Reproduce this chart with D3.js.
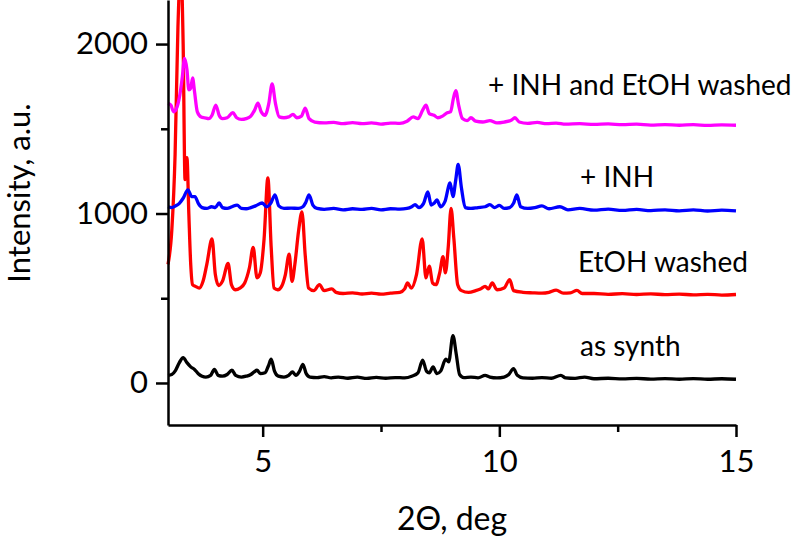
<!DOCTYPE html>
<html>
<head>
<meta charset="utf-8">
<script src="https://cdn.jsdelivr.net/npm/d3@7/dist/d3.min.js"></script>
<style>
  html, body { margin: 0; padding: 0; background: #fff; }
  svg { display: block; font-family: Lato, "Open Sans", sans-serif; }
  .axis path, .axis line { stroke: #000; stroke-width: 2.5px; }
  .axis text { font-size: 31px; fill: #000; font-family: Lato, sans-serif; }
  .trace { fill: none; stroke-width: 3.3px; stroke-linejoin: round; }
  .lbl { font-size: 28px; fill: #000; }
</style>
</head>
<body>
<div id="chart"></div>
<script>
// XRD patterns, 2theta (deg) vs intensity (a.u.)
const asSynth = [
  [3.00,45],[3.08,50],[3.16,75],[3.24,120],[3.32,150],[3.40,120],[3.48,95],[3.56,80],[3.64,55],[3.72,40],
  [3.80,35],[3.90,45],[3.98,80],[4.06,45],[4.15,40],[4.25,50],[4.35,75],[4.43,45],[4.55,35],[4.65,40],
  [4.75,50],[4.82,65],[4.88,75],[4.95,55],[5.05,60],[5.12,100],[5.18,140],[5.25,70],[5.33,40],[5.45,35],
  [5.55,45],[5.63,65],[5.70,45],[5.78,70],[5.85,110],[5.92,55],[6.00,35],[6.15,32],[6.30,38],[6.45,30],
  [6.60,35],[6.80,28],[7.00,34],[7.20,27],[7.40,33],[7.60,28],[7.80,32],[8.00,30],[8.15,40],[8.28,60],
  [8.38,135],[8.46,70],[8.52,60],[8.60,95],[8.68,55],[8.76,70],[8.87,140],[8.93,125],[9.02,280],[9.09,170],
  [9.16,50],[9.25,32],[9.40,35],[9.55,30],[9.70,45],[9.80,35],[9.95,30],[10.10,35],[10.20,50],[10.30,85],
  [10.38,45],[10.50,30],[10.70,28],[10.90,32],[11.10,28],[11.30,45],[11.40,30],[11.60,27],[11.80,35],[12.00,25],
  [12.30,28],[12.60,24],[12.90,27],[13.20,23],[13.50,26],[13.80,22],[14.10,26],[14.40,22],[14.70,25],[15.00,22]
];

const etohWashed = [
  [3.00,700],[3.08,900],[3.15,1350],[3.21,2100],[3.27,2450],[3.32,2000],[3.36,1200],[3.40,1330],[3.44,1000],[3.48,700],
  [3.52,580],[3.58,570],[3.66,560],[3.74,600],[3.82,700],[3.93,850],[4.00,640],[4.07,575],[4.15,600],[4.27,705],
  [4.34,580],[4.42,550],[4.52,560],[4.62,590],[4.72,680],[4.80,800],[4.88,620],[4.95,650],[5.03,850],[5.11,1210],
  [5.18,800],[5.24,560],[5.32,550],[5.40,570],[5.48,640],[5.56,760],[5.62,600],[5.68,700],[5.76,900],[5.83,1010],
  [5.90,750],[5.97,560],[6.08,545],[6.20,580],[6.30,545],[6.46,555],[6.55,535],[6.70,528],[6.90,532],[7.10,525],
  [7.30,530],[7.50,524],[7.70,530],[7.90,535],[8.00,555],[8.06,590],[8.14,560],[8.25,640],[8.37,850],[8.45,620],
  [8.52,690],[8.59,590],[8.66,580],[8.74,650],[8.81,745],[8.86,650],[8.92,800],[8.98,1030],[9.04,850],[9.12,580],
  [9.20,545],[9.35,535],[9.50,545],[9.60,555],[9.70,570],[9.77,555],[9.85,590],[9.95,550],[10.10,560],[10.22,610],
  [10.30,545],[10.50,535],[10.70,532],[10.90,530],[11.05,535],[11.20,548],[11.35,530],[11.50,532],[11.64,546],[11.75,528],
  [12.00,528],[12.30,523],[12.60,527],[12.90,522],[13.20,526],[13.50,521],[13.80,524],[14.10,520],[14.40,523],[14.70,519],[15.00,522]
];

const plusINH = [
  [3.00,1040],[3.08,1035],[3.16,1045],[3.24,1060],[3.32,1090],[3.42,1140],[3.50,1100],[3.57,1100],[3.64,1060],[3.72,1035],
  [3.82,1030],[3.92,1040],[4.00,1035],[4.08,1062],[4.15,1035],[4.25,1030],[4.35,1040],[4.46,1050],[4.55,1030],[4.65,1028],
  [4.75,1035],[4.85,1045],[4.99,1062],[5.08,1040],[5.17,1060],[5.26,1110],[5.34,1045],[5.45,1030],[5.60,1032],[5.75,1030],
  [5.85,1040],[5.91,1065],[5.98,1110],[6.06,1050],[6.15,1030],[6.30,1025],[6.50,1030],[6.70,1022],[6.90,1028],[7.10,1024],
  [7.30,1030],[7.50,1022],[7.70,1028],[7.90,1026],[8.05,1030],[8.15,1040],[8.22,1052],[8.30,1035],[8.40,1060],[8.49,1127],
  [8.56,1050],[8.62,1060],[8.68,1080],[8.76,1040],[8.85,1070],[8.96,1180],[9.02,1100],[9.08,1200],[9.13,1290],[9.20,1150],
  [9.28,1035],[9.40,1030],[9.55,1035],[9.70,1040],[9.80,1052],[9.90,1035],[10.00,1048],[10.10,1030],[10.22,1035],[10.30,1060],
  [10.37,1110],[10.45,1040],[10.60,1030],[10.75,1035],[10.90,1045],[11.05,1028],[11.28,1040],[11.45,1022],[11.70,1030],[12.00,1020],
  [12.30,1026],[12.60,1018],[12.90,1024],[13.20,1017],[13.50,1022],[13.80,1016],[14.10,1021],[14.40,1015],[14.70,1020],[15.00,1016]
];

const inhEtohWashed = [
  [3.00,1650],[3.06,1640],[3.12,1600],[3.18,1620],[3.25,1700],[3.30,1800],[3.35,1915],[3.40,1850],[3.44,1730],[3.48,1740],
  [3.52,1800],[3.56,1720],[3.62,1600],[3.70,1570],[3.78,1565],[3.86,1560],[3.93,1580],[4.01,1640],[4.08,1580],[4.15,1560],
  [4.25,1565],[4.37,1595],[4.45,1565],[4.55,1555],[4.65,1560],[4.75,1575],[4.83,1610],[4.90,1652],[4.97,1600],[5.05,1580],
  [5.13,1650],[5.20,1765],[5.27,1650],[5.35,1570],[5.45,1565],[5.55,1570],[5.64,1585],[5.72,1565],[5.82,1575],[5.90,1622],
  [5.98,1560],[6.10,1540],[6.30,1535],[6.50,1538],[6.70,1530],[6.90,1536],[7.10,1530],[7.30,1535],[7.50,1528],[7.70,1534],
  [7.90,1532],[8.05,1545],[8.18,1570],[8.28,1560],[8.38,1610],[8.45,1640],[8.52,1590],[8.62,1580],[8.70,1565],[8.80,1575],
  [8.90,1595],[8.97,1600],[9.03,1680],[9.08,1725],[9.14,1640],[9.22,1560],[9.32,1548],[9.40,1565],[9.50,1545],[9.65,1540],
  [9.80,1548],[9.95,1535],[10.10,1540],[10.25,1550],[10.33,1565],[10.42,1540],[10.60,1532],[10.80,1538],[11.00,1530],[11.20,1534],
  [11.40,1527],[11.70,1530],[12.00,1526],[12.30,1529],[12.60,1524],[12.90,1527],[13.20,1522],[13.50,1525],[13.80,1521],[14.10,1524],
  [14.40,1520],[14.70,1523],[15.00,1521]
];

const seriesNames = ['as synth', 'EtOH washed', '+ INH', '+ INH and EtOH washed'];
const seriesColors = ['#000000', '#ff0000', '#0000ff', '#ff00ff'];
const xMajorTicks = [5, 10, 15];
const xMinorTicks = [7.5, 12.5];
const yMajorTicks = [0, 1000, 2000];
const yMinorTicks = [500, 1500];

const width = 793, height = 548;
const margin = {top: 0, right: 57, bottom: 123, left: 168};

const svg = d3.select('#chart').append('svg')
  .attr('width', width)
  .attr('height', height);

const x = d3.scaleLinear().domain([3, 15]).range([margin.left, width - margin.right]);
const y = d3.scaleLinear().domain([-248, 2260]).range([height - margin.bottom, margin.top]);

const line = d3.line()
  .x(d => x(d[0]))
  .y(d => y(d[1]))
  .curve(d3.curveMonotoneX);

// traces, red underneath the others
const allSeries = [asSynth, etohWashed, plusINH, inhEtohWashed];
const drawOrder = [1, 0, 2, 3];
svg.append('g').selectAll('path')
  .data(drawOrder)
  .enter()
  .append('path')
  .attr('class', 'trace')
  .attr('stroke', i => seriesColors[i])
  .attr('d', i => line(allSeries[i]));

// axes
svg.append('g').attr('class', 'axis')
  .attr('transform', `translate(0,${height - margin.bottom})`)
  .call(d3.axisBottom(x).tickValues(xMajorTicks).tickSize(12).tickSizeOuter(0).tickPadding(13).tickFormat(d3.format('d')));
svg.append('g').attr('class', 'axis')
  .attr('transform', `translate(0,${height - margin.bottom})`)
  .call(d3.axisBottom(x).tickValues(xMinorTicks).tickSize(7).tickSizeOuter(0).tickFormat(''))
  .select('.domain').remove();

svg.append('g').attr('class', 'axis')
  .attr('transform', `translate(${margin.left},0)`)
  .call(d3.axisLeft(y).tickValues(yMajorTicks).tickSize(12).tickSizeOuter(0).tickPadding(8).tickFormat(d3.format('d')));
svg.append('g').attr('class', 'axis')
  .attr('transform', `translate(${margin.left},0)`)
  .call(d3.axisLeft(y).tickValues(yMinorTicks).tickSize(7).tickSizeOuter(0).tickFormat(''))
  .select('.domain').remove();

// axis titles
svg.append('text')
  .attr('x', (margin.left + width - margin.right) / 2)
  .attr('y', 530)
  .attr('text-anchor', 'middle')
  .style('font-size', '32px')
  .text('2\u0398, deg');

svg.append('text')
  .attr('transform', 'translate(30,193) rotate(-90)')
  .attr('text-anchor', 'middle')
  .style('font-size', '31px')
  .text('Intensity, a.u.');

// series labels
const labelPos = [[580, 356], [578, 272], [580, 187], [488, 95]];
svg.append('g').selectAll('text')
  .data(seriesNames)
  .enter()
  .append('text')
  .attr('class', 'lbl')
  .attr('x', (d, i) => labelPos[i][0])
  .attr('y', (d, i) => labelPos[i][1])
  .text(d => d);
</script>
</body>
</html>
